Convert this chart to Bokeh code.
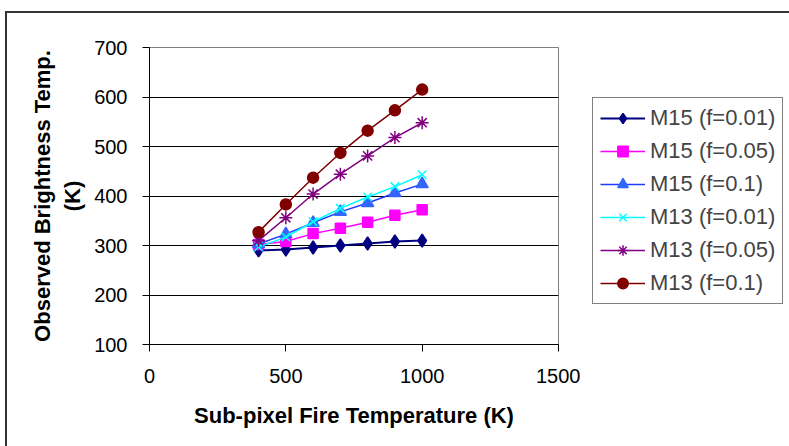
from bokeh.plotting import figure
from bokeh.models import Legend, LegendItem, FixedTicker, Range1d
from bokeh.layouts import row
from bokeh.embed import file_html
from bokeh.resources import INLINE

# ---- data ----
fire_temp = [400, 500, 600, 700, 800, 900, 1000]
m15_f001 = [290, 292, 296, 300, 304, 308, 310]
m15_f005 = [302, 308, 324, 335, 347, 361, 372]
m15_f01 = [303, 323, 346, 368, 386, 406, 424]
m13_f001 = [297, 317, 348, 375, 398, 419, 443]
m13_f005 = [310, 356, 404, 444, 481, 518, 548]
m13_f01 = [327, 383, 437, 487, 532, 573, 615]

series_names = ["M15 (f=0.01)", "M15 (f=0.05)", "M15 (f=0.1)",
                "M13 (f=0.01)", "M13 (f=0.05)", "M13 (f=0.1)"]
x_ticks = [0, 500, 1000, 1500]
y_ticks = [100, 200, 300, 400, 500, 600, 700]
x_title = "Sub-pixel Fire Temperature (K)"
y_title = "Observed Brightness Temp.\n(K)"

series_values = [m15_f001, m15_f005, m15_f01, m13_f001, m13_f005, m13_f01]
styles = [
    dict(marker="diamond", line="#000080", fill="#000080", size=13, lw=2.0),
    dict(marker="square", line="#FF00FF", fill="#FF00FF", size=10, lw=1.5),
    dict(marker="triangle", line="#1a3cff", fill="#3366FF", size=12, lw=1.5),
    dict(marker="x", line="#00FFFF", fill="#00FFFF", size=12, lw=1.5),
    dict(marker="asterisk", line="#800080", fill="#800080", size=13, lw=1.5),
    dict(marker="circle", line="#800000", fill="#800000", size=11, lw=1.5),
]

H = 433
W_MAIN = 573
W_LEG = 782 - W_MAIN

p = figure(width=W_MAIN, height=H, output_backend="svg", toolbar_location=None,
           x_range=Range1d(0, 1500), y_range=Range1d(100, 700),
           min_border_left=142, min_border_right=W_MAIN - 551,
           min_border_top=34, min_border_bottom=102)

p.background_fill_color = "white"
p.border_fill_color = "white"
p.outline_line_color = "#808080"
p.outline_line_width = 1

p.xgrid.visible = False
p.ygrid.ticker = FixedTicker(ticks=[200, 300, 400, 500, 600])
p.ygrid.grid_line_color = "black"
p.ygrid.grid_line_width = 1

for ax, ticks in ((p.xaxis, x_ticks), (p.yaxis, y_ticks)):
    ax.ticker = FixedTicker(ticks=ticks)
    ax.axis_line_color = "black"
    ax.major_tick_line_color = "black"
    ax.major_tick_in = 0
    ax.major_tick_out = 7
    ax.minor_tick_line_color = None
    ax.major_label_text_font = "Liberation Sans"
    ax.major_label_text_font_size = "20px"
    ax.major_label_text_color = "black"
    ax.axis_label_text_font = "Liberation Sans"
    ax.axis_label_text_font_size = "22px"
    ax.axis_label_text_font_style = "bold"
    ax.axis_label_text_color = "black"
p.xaxis.major_label_standoff = 17
p.yaxis.major_label_standoff = 15
p.xaxis.axis_label = x_title
p.yaxis.axis_label = y_title
p.xaxis.axis_label_standoff = 17
p.yaxis.axis_label_standoff = 6

# legend lives in its own small figure to the right of the plot area
lf = figure(width=W_LEG, height=H, output_backend="svg", toolbar_location=None,
            x_range=Range1d(0, 1), y_range=Range1d(0, 1),
            x_axis_location=None, y_axis_location=None,
            min_border_left=0, min_border_right=0, min_border_top=0, min_border_bottom=0)
lf.outline_line_color = None
lf.grid.visible = False
lf.background_fill_color = "white"
lf.border_fill_color = "white"

items = []
for name, vals, st in zip(series_names, series_values, styles):
    p.line(fire_temp, vals, line_color=st["line"], line_width=st["lw"])
    p.scatter(fire_temp, vals, marker=st["marker"], size=st["size"],
              fill_color=st["fill"], line_color=st["fill"], line_width=1.5)
    # same series in the legend figure (outside its ranges, so only the legend shows)
    l_line = lf.line(fire_temp, vals, line_color=st["line"], line_width=st["lw"])
    l_mark = lf.scatter(fire_temp, vals, marker=st["marker"], size=st["size"],
                        fill_color=st["fill"], line_color=st["fill"], line_width=1.5)
    items.append(LegendItem(label=name, renderers=[l_line, l_mark]))

legend = Legend(items=items, location=(12, 40))
legend.label_text_font = "Liberation Sans"
legend.label_text_font_size = "22px"
legend.glyph_width = 45
legend.glyph_height = 26
legend.label_height = 26
legend.label_standoff = 5
legend.spacing = 7
legend.padding = 7
legend.margin = 0
legend.border_line_color = "black"
legend.border_line_width = 1
legend.background_fill_color = "white"
lf.add_layout(legend, "center")

layout = row(p, lf)
layout.spacing = 0
layout.styles = {"margin-left": "5px", "margin-top": "11px",
                 "border-left": "2px solid #333333", "border-top": "2px solid #333333"}

open("out.html", "w").write(file_html(layout, INLINE))
